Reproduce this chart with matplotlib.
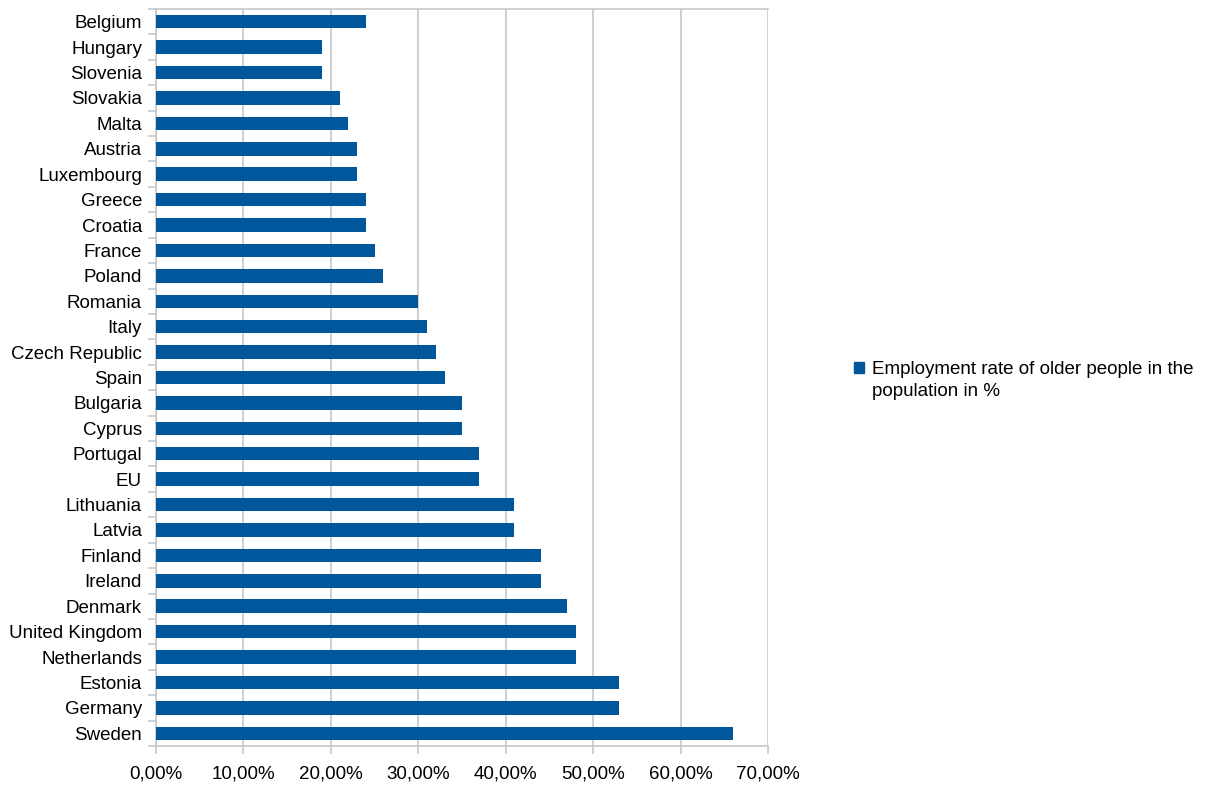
import matplotlib
matplotlib.use("Agg")
import matplotlib.pyplot as plt
from matplotlib.ticker import FuncFormatter, FixedLocator
from matplotlib.patches import Patch, Rectangle
from matplotlib.legend_handler import HandlerPatch

countries = ["Belgium", "Hungary", "Slovenia", "Slovakia", "Malta", "Austria",
             "Luxembourg", "Greece", "Croatia", "France", "Poland", "Romania",
             "Italy", "Czech Republic", "Spain", "Bulgaria", "Cyprus", "Portugal",
             "EU", "Lithuania", "Latvia", "Finland", "Ireland", "Denmark",
             "United Kingdom", "Netherlands", "Estonia", "Germany", "Sweden"]
values = [24, 19, 19, 21, 22, 23, 23, 24, 24, 25, 26, 30, 31, 32, 33, 35, 35,
          37, 37, 41, 41, 44, 44, 47, 48, 48, 53, 53, 66]
series_label = "Employment rate of older people in the\npopulation in %"

plt.rcParams['font.family'] = ['Liberation Sans', 'DejaVu Sans']
color = "#00579c"
grid_c = "#c8c8c8"
fs = 13.5

fig = plt.figure(figsize=(12.07, 7.87), dpi=100)
ax = fig.add_axes([156/1207, 1-746/787, (768-156)/1207, (746-9)/787])

pos = list(range(len(countries)))
ax.barh(pos, values, height=0.53, color=color, zorder=3)
ax.set_ylim(len(countries)-0.5, -0.5)
ax.set_xlim(0, 70)
ax.set_xticks(range(0, 71, 10))
ax.xaxis.set_major_formatter(FuncFormatter(lambda v, p: f"{v:.2f}%".replace(".", ",")))
ax.set_yticks(pos)
ax.set_yticklabels(countries)
ax.yaxis.set_minor_locator(FixedLocator([i - 0.5 for i in range(len(countries)+1)]))
ax.tick_params(axis='y', which='major', length=0, pad=10, labelsize=fs)
ax.tick_params(axis='y', which='minor', length=6, color=grid_c, width=1.2)
ax.tick_params(axis='x', which='major', length=6, color=grid_c, width=1.2, labelsize=fs, pad=8)
ax.grid(axis='x', color=grid_c, linewidth=1.2, zorder=0)
for s in ax.spines.values():
    s.set_color(grid_c)
    s.set_linewidth(1.2)
ax.spines['right'].set_visible(False)


def top_square(legend, orig_handle, xdescent, ydescent, width, height, fontsize):
    return Rectangle((-xdescent, -ydescent + 9.0), width, height)


handle = Patch(facecolor=color, edgecolor=color)
leg = fig.legend([handle], [series_label], loc='upper left', bbox_to_anchor=(854/1207, 1-361/787),
                 frameon=False, fontsize=fs, handlelength=0.55, handleheight=0.55,
                 handletextpad=0.4, borderaxespad=0, borderpad=0,
                 handler_map={Patch: HandlerPatch(patch_func=top_square)})
leg.get_texts()[0].set_linespacing(1.35)

fig.savefig("out.png", dpi=100)
